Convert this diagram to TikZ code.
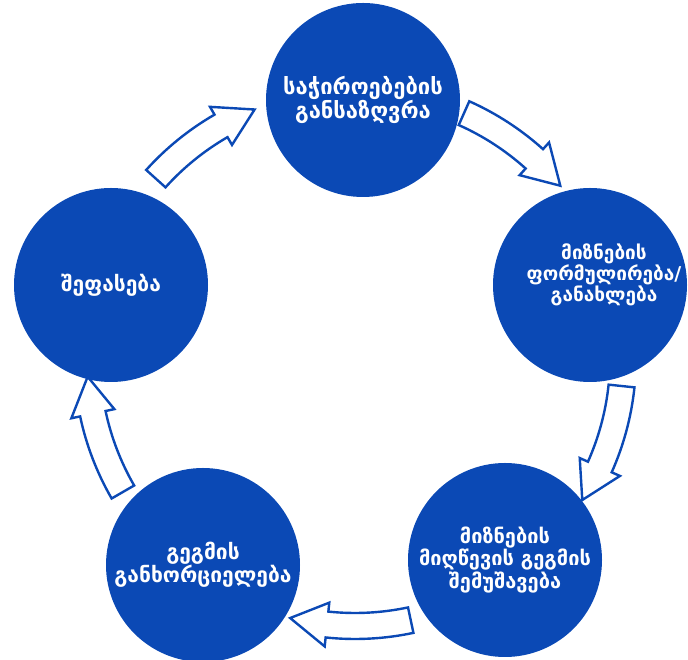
\documentclass[tikz,border=0pt]{standalone}
\usepackage{fontspec}
\newfontfamily\georgianfont{DejaVu Sans}
\definecolor{StageBlue}{HTML}{0B49B5}
\tikzset{
  stage/.style={shape=circle,
    fill=StageBlue,
    minimum size=194pt,
    inner sep=0pt,
    text=white,
    align=center},
  stagefont/.style 2 args={font=\georgianfont\bfseries\fontsize{#1}{#2}\selectfont},
  flowarrow/.style={draw=StageBlue,
    line width=2.4pt,
    fill=white,
    line join=miter}
}
% hollow curved arrow around the hub, #1 = angle of its tail
\newcommand{\cyclearrow}[1]{%
  \pgfmathsetmacro{\headang}{#1-18}%
  \pgfmathsetmacro{\tipang}{#1-26}%
  \draw[flowarrow] ([shift={(hub)}]#1:281)
    arc[start angle=#1, end angle=\headang, radius=281]
    -- ([shift={(hub)}]\headang:290)
    -- ([shift={(hub)}]\tipang:268)
    -- ([shift={(hub)}]\headang:246)
    -- ([shift={(hub)}]\headang:255)
    arc[start angle=\headang, end angle=#1, radius=255] -- cycle;}

\begin{document}
\begin{tikzpicture}[x=1pt, y=1pt]
    \useasboundingbox (0,0) rectangle (688,660);
    \coordinate (hub) at (355,302);

    \cyclearrow{138}
    \cyclearrow{66}
    \cyclearrow{-6}
    \cyclearrow{-78}
    \cyclearrow{-150}

    \node[name=need,
      stage,
      stagefont={22}{24}] at (363,560) {საჭიროებების\\განსაზღვრა};

    \node[name=goal,
      stage,
      label={[stagefont={19}{20}, text=white, align=center, xshift=14pt, yshift=10pt]center:მიზნების\\ფორმულირება/\\განახლება}]
      at (590,375) {};

    \node[name=plan,
      stage,
      stagefont={20}{20}] at (505,100) {მიზნების\\მიღწევის გეგმის\\შემუშავება};

    \node[name=impl,
      stage,
      stagefont={21}{21}] at (203,95) {გეგმის\\განხორციელება};

    \node[name=eval,
      stage,
      stagefont={21}{21}] at (111,375) {შეფასება};
\end{tikzpicture}
\end{document}
